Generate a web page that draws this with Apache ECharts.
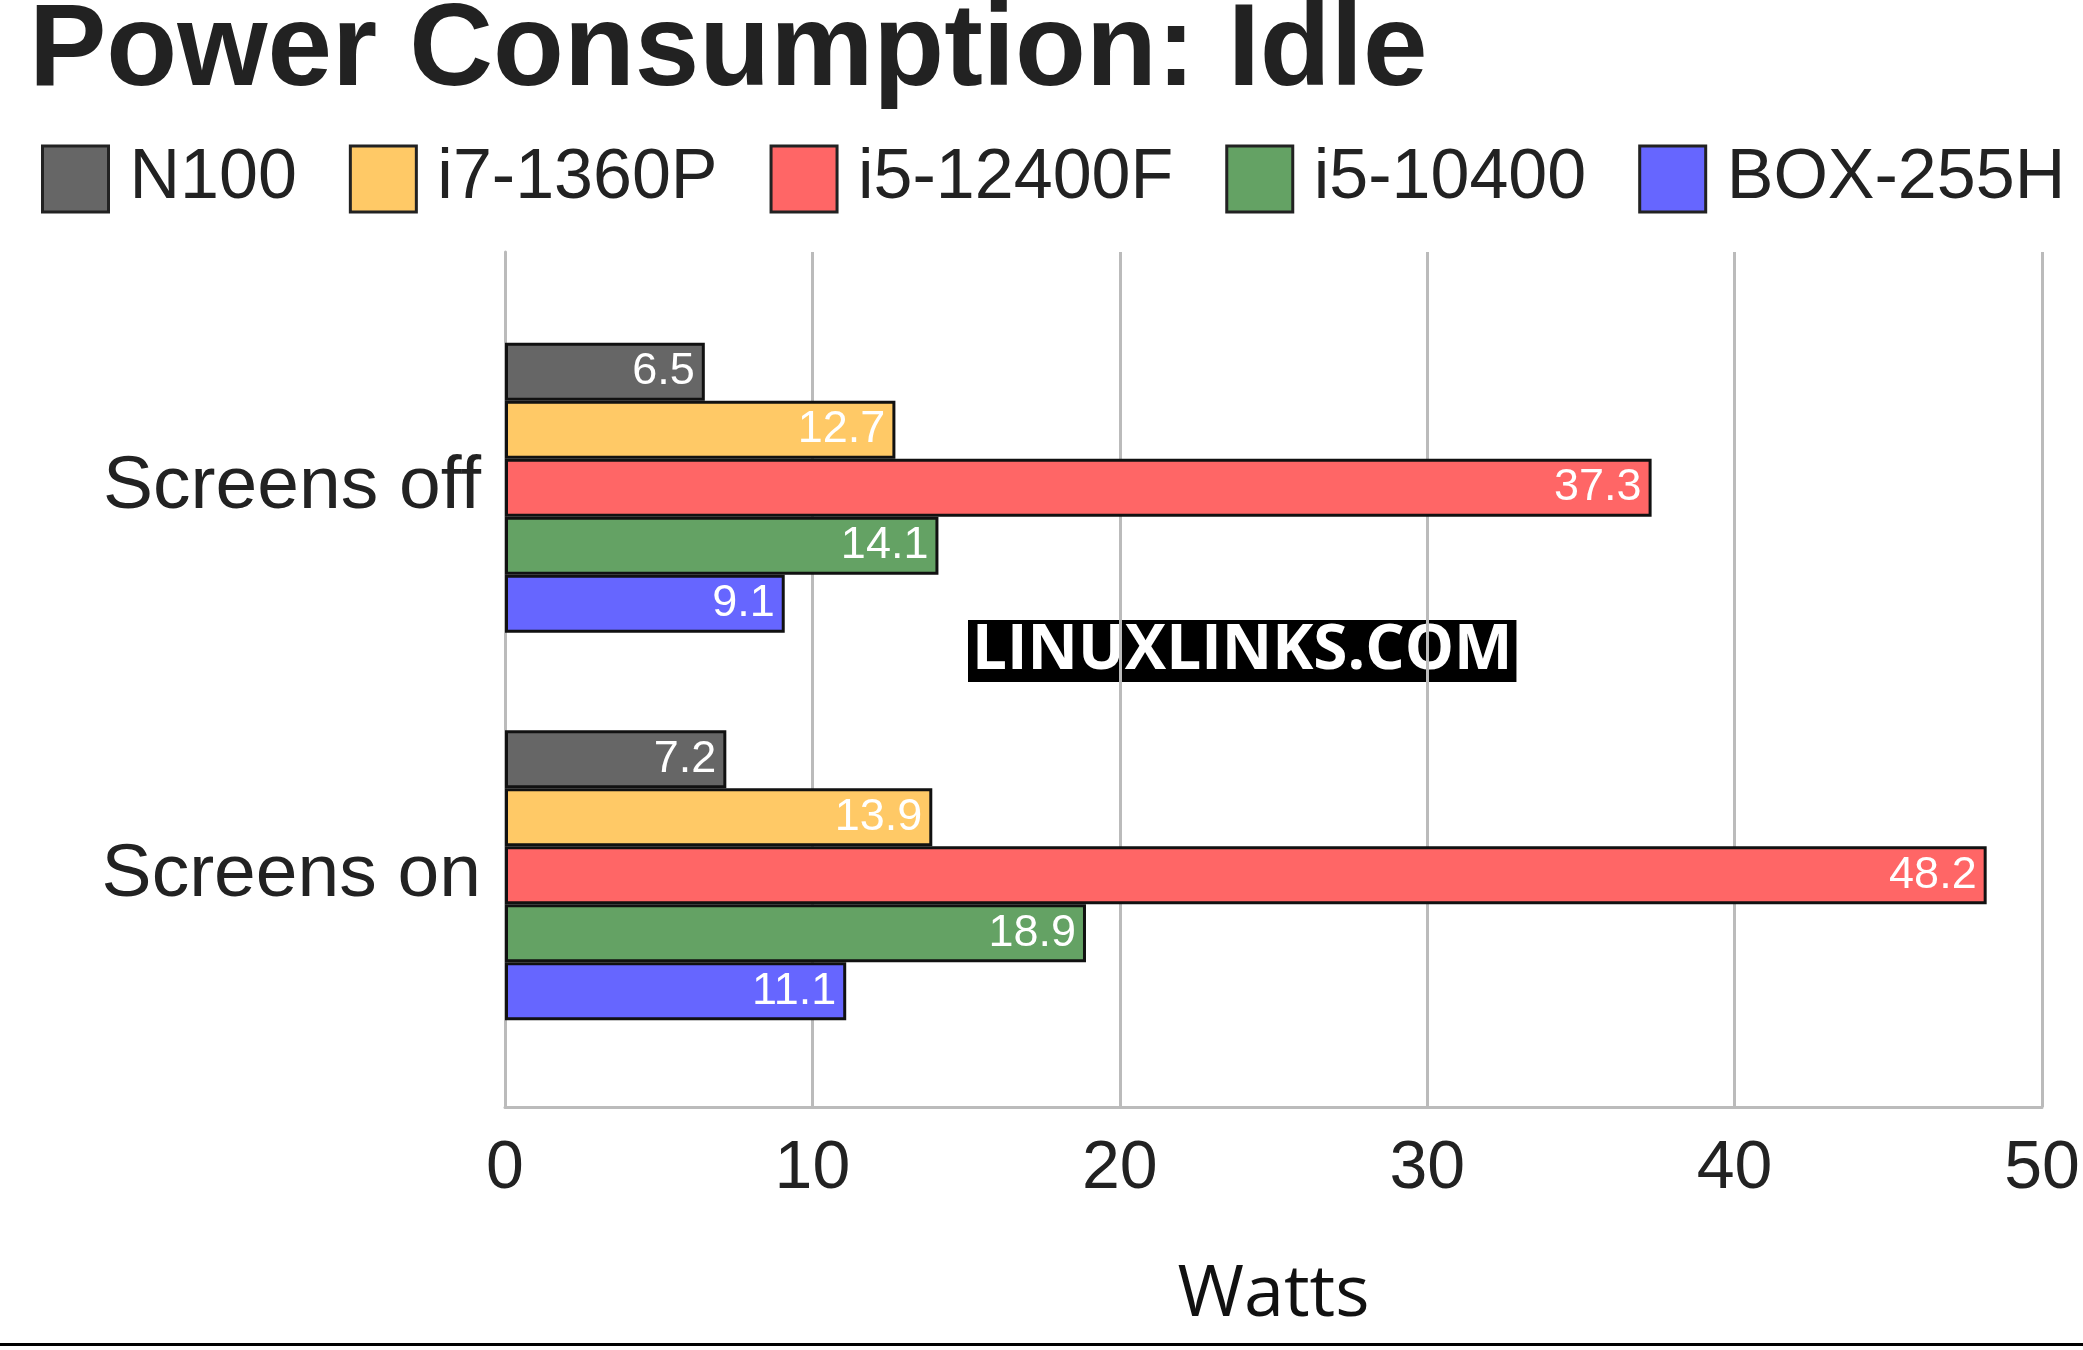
<!DOCTYPE html><html><head><meta charset="utf-8">
<script src="https://cdn.jsdelivr.net/npm/echarts@6/dist/echarts.min.js"></script>
<style>html,body{margin:0;background:#fff}#c{width:2083px;height:1350px}</style></head><body><div id="c"></div>
<script>
const categories=['Screens off','Screens on'];
const seriesNames=['N100','i7-1360P','i5-12400F','i5-10400','BOX-255H'];
const N100=[6.5,7.2];
const i7_1360P=[12.7,13.9];
const i5_12400F=[37.3,48.2];
const i5_10400=[14.1,18.9];
const BOX_255H=[9.1,11.1];
const xTicks=[0,10,20,30,40,50];
const colors=['#666666','#ffc966','#ff6666','#64a264','#6666ff'];
const vals=[N100,i7_1360P,i5_12400F,i5_10400,BOX_255H];
const ch=echarts.init(document.getElementById('c'));
const L=505,R=41;
ch.setOption({
 animation:false,
 title:{text:'Power Consumption: Idle',left:24,top:-10,textStyle:{fontFamily:'Liberation Sans',fontWeight:'bold',fontSize:116,color:'#222'}},
 legend:{data:seriesNames,left:36,top:139,itemWidth:66,itemHeight:66,itemGap:52,icon:'rect',
   textStyle:{fontFamily:'Liberation Sans',fontSize:70,color:'#222',padding:[0,0,0,16]},
   itemStyle:{borderColor:'#222',borderWidth:3}},
 grid:[{left:L,right:R,top:252,bottom:243},{left:L,right:R,top:294,bottom:281}],
 xAxis:[{gridIndex:0,type:'value',min:0,max:50,interval:10,
   axisLine:{show:true,lineStyle:{color:'#bbb',width:3}},axisTick:{show:false},
   splitLine:{lineStyle:{color:'#bbb',width:3}},
   axisLabel:{fontFamily:'Liberation Sans',fontSize:68,color:'#222',margin:28,formatter:v=>xTicks.includes(v)?String(v):''},
   name:'Watts',nameLocation:'middle',nameGap:152,nameTextStyle:{fontFamily:'Open Sans',fontSize:72,color:'#111'}},
  {gridIndex:1,type:'value',min:0,max:50,show:false}],
 yAxis:[{gridIndex:0,type:'category',data:categories,show:true,axisLabel:{show:false},axisTick:{show:false},axisLine:{lineStyle:{color:'#bbb',width:3}}},
  {gridIndex:1,type:'category',data:categories,inverse:true,axisLine:{show:false},axisTick:{show:false},
   axisLabel:{fontFamily:'Liberation Sans',fontSize:75,color:'#222',margin:24}}],
 series:seriesNames.map((n,i)=>({name:n,type:'bar',xAxisIndex:1,yAxisIndex:1,data:vals[i],barWidth:58,barGap:'0%',
   itemStyle:{color:colors[i],borderColor:'#111',borderWidth:3},
   label:{show:true,position:'insideRight',color:'#fff',fontFamily:'Liberation Sans',fontSize:45,distance:10}})),
 graphic:[
  {type:'text',left:968,top:620,style:{text:'LINUXLINKS.COM',fontFamily:'Open Sans',fontWeight:'bold',fontSize:62,fill:'#fff',backgroundColor:'#000',padding:[0,4,0,4]}},
  {type:'rect',shape:{x:0,y:1343,width:2083,height:3},style:{fill:'#000'}}
 ]
});
</script></body></html>
